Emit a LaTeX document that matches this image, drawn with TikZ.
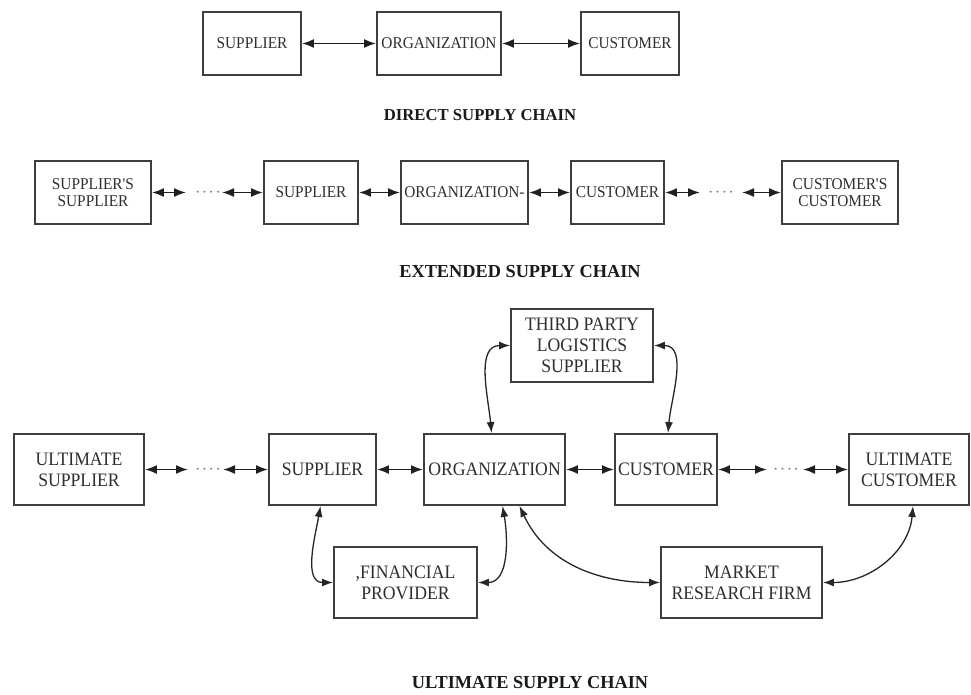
\documentclass[tikz,border=0pt]{standalone}
\usepackage{fontspec}
\setmainfont{Liberation Serif}
\newfontfamily\labelfont[FakeStretch=0.93]{Liberation Serif}
\usetikzlibrary{arrows.meta}
\definecolor{edgegray}{HTML}{3E3E3E}
\definecolor{labelgray}{HTML}{2E2E2E}
\definecolor{dotgray}{HTML}{7A7A7A}
\definecolor{capblack}{HTML}{1A1A1A}

\begin{document}
\begin{tikzpicture}[x=1pt,y=-1pt,
  blk/.style={draw=edgegray, line width=1.9pt, align=center, inner sep=0pt, text=labelgray},
  smallblk/.style={blk, font=\labelfont\fontsize{16.5}{17.5}\selectfont, minimum height=63pt},
  bigblk/.style={blk, font=\labelfont\fontsize{19}{21}\selectfont, minimum height=71pt},
  link/.style={{Latex[length=12pt,width=9pt]}-{Latex[length=12pt,width=9pt]}, line width=1.8pt, draw=black!88},
  bend link/.style={{Latex[length=11pt,width=8pt]}-{Latex[length=11pt,width=8pt]}, line width=1.3pt, draw=black!85},
  gap/.style={text=dotgray, font=\fontsize{16}{16}\selectfont, inner sep=0pt, anchor=base},
  caption/.style={font=\bfseries\fontsize{18.3}{20}\selectfont, text=capblack}
]
\useasboundingbox[fill=white] (0,0) rectangle (971,694);

% ---------- direct supply chain ----------
\node[smallblk, minimum width=98pt]  (sup1) at (252,43.5) {SUPPLIER};
\node[smallblk, minimum width=124pt] (org1) at (439,43.5) {ORGANIZATION};
\node[smallblk, minimum width=98pt]  (cus1) at (630,43.5) {CUSTOMER};
\draw[link] (sup1) -- (org1);
\draw[link] (org1) -- (cus1);
\node[caption, font=\bfseries\fontsize{16.7}{18}\selectfont] (capdirect) at (480,115) {DIRECT SUPPLY CHAIN};

% ---------- extended supply chain ----------
\node[smallblk, minimum width=116pt] (ss)   at (93,192.5)    {SUPPLIER'S\\SUPPLIER};
\node[smallblk, minimum width=94pt]  (sup2) at (311,192.5)   {SUPPLIER};
\node[smallblk, minimum width=127pt] (org2) at (464.5,192.5) {ORGANIZATION-};
\node[smallblk, minimum width=93pt]  (cus2) at (617.5,192.5) {CUSTOMER};
\node[smallblk, minimum width=116pt] (cc)   at (840,192.5)   {CUSTOMER'S\\CUSTOMER};
\coordinate (e1) at (186,192.5);
\coordinate (e2) at (222,192.5);
\coordinate (e3) at (700,192.5);
\coordinate (e4) at (742,192.5);
\node[gap] (dots1) at (208,197.5) {·\kern1.5pt·\kern1.5pt·\kern1.5pt·};
\node[gap] (dots2) at (721,197.5) {·\kern1.5pt·\kern1.5pt·\kern1.5pt·};
\draw[link] (ss) -- (e1);
\draw[link] (e2) -- (sup2);
\draw[link] (sup2) -- (org2);
\draw[link] (org2) -- (cus2);
\draw[link] (cus2) -- (e3);
\draw[link] (e4) -- (cc);
\node[caption] (capext) at (520,272) {EXTENDED SUPPLY CHAIN};

% ---------- ultimate supply chain ----------
\node[bigblk, minimum width=130pt] (us)   at (79,469.5)    {ULTIMATE\\SUPPLIER};
\node[bigblk, minimum width=107pt] (sup3) at (322.5,469.5) {SUPPLIER};
\node[bigblk, minimum width=141pt] (org3) at (494.5,469.5) {ORGANIZATION};
\node[bigblk, minimum width=102pt] (cus3) at (666,469.5)   {CUSTOMER};
\node[bigblk, minimum width=120pt] (uc)   at (909,469.5)   {ULTIMATE\\CUSTOMER};
\node[bigblk, minimum width=142pt, minimum height=73pt] (tpl) at (582,345.5) {THIRD PARTY\\LOGISTICS\\SUPPLIER};
\node[bigblk, minimum width=143pt] (fp)  at (405.5,582.5) {,FINANCIAL\\PROVIDER};
\node[bigblk, minimum width=161pt] (mrf) at (741.5,582.5) {MARKET\\RESEARCH FIRM};

\coordinate (u1) at (188,469.5);
\coordinate (u2) at (223,469.5);
\coordinate (u3) at (767,469.5);
\coordinate (u4) at (803,469.5);
\node[gap] (dots3) at (208,474.5) {·\kern1.5pt·\kern1.5pt·\kern1.5pt·};
\node[gap] (dots4) at (786,474.5) {·\kern1.5pt·\kern1.5pt·\kern1.5pt·};
\draw[link] (us) -- (u1);
\draw[link] (u2) -- (sup3);
\draw[link] (sup3) -- (org3);
\draw[link] (org3) -- (cus3);
\draw[link] (cus3) -- (u3);
\draw[link] (u4) -- (uc);

% curved two-way links to the service providers
\draw[bend link] (tpl.west) to[out=180,in=95] ([xshift=-3pt]org3.north);
\draw[bend link] (tpl.east) to[out=0,in=85] ([xshift=2pt]cus3.north);
\draw[bend link] ([xshift=-2pt]sup3.south) to[out=-100,in=180] (fp.west);
\draw[bend link] ([xshift=8pt]org3.south) to[out=-80,in=0] (fp.east);
\draw[bend link] ([xshift=25pt]org3.south) to[out=-65,in=180] (mrf.west);
\draw[bend link] ([xshift=4pt]uc.south) to[out=-95,in=0] (mrf.east);

\node[caption] (capult) at (530,683) {ULTIMATE SUPPLY CHAIN};
\end{tikzpicture}
\end{document}
